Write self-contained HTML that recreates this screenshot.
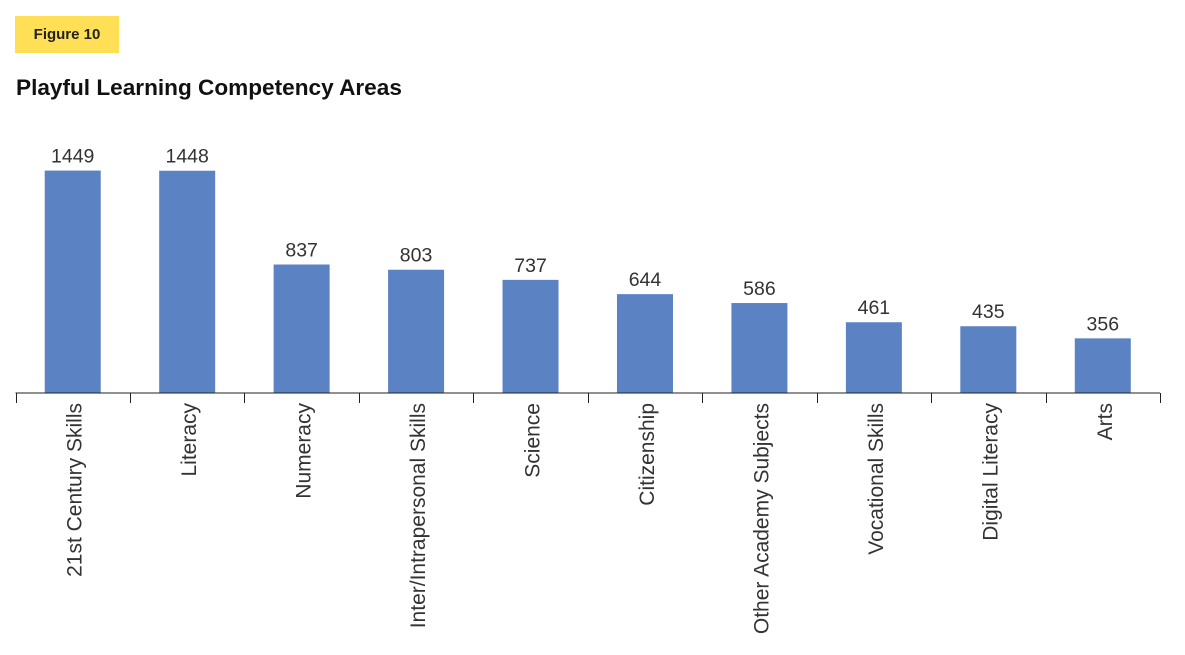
<!DOCTYPE html>
<html><head><meta charset="utf-8"><style>
body{margin:0;background:#fff;width:1185px;height:655px;overflow:hidden;font-family:"Liberation Sans",Arial,sans-serif}
#badge{position:absolute;left:15px;top:16px;width:104px;height:37px;background:#FFDF55;font-weight:bold;font-size:15px;color:#222;display:flex;align-items:center;justify-content:center}
#title{position:absolute;left:16px;top:75px;font-weight:bold;font-size:22.6px;color:#111}
svg{position:absolute;left:0;top:0}
</style></head><body>
<div id="badge">Figure 10</div>
<div id="title">Playful Learning Competency Areas</div>
<svg id="chart" width="1185" height="655"></svg>
<script>
const categories=["21st Century Skills","Literacy","Numeracy","Inter/Intrapersonal Skills","Science","Citizenship","Other Academy Subjects","Vocational Skills","Digital Literacy","Arts"];
const values=[1449,1448,837,803,737,644,586,461,435,356];
const valueLabels=["1449","1448","837","803","737","644","586","461","435","356"];
const svg=document.getElementById('chart');
const NS="http://www.w3.org/2000/svg";
const x0=15.5,x1=1160,base=393,pxPer=0.1535;
const bw=(x1-x0)/categories.length;
const xScale=i=>x0+bw*i;
const yScale=v=>base-v*pxPer;
function mk(t,a){const e=document.createElementNS(NS,t);for(const k in a)e.setAttribute(k,a[k]);svg.appendChild(e);return e;}
categories.forEach((c,i)=>{
  const cx=xScale(i)+bw/2,top=yScale(values[i]);
  const r=mk('rect',{x:cx-28,y:top,width:56,height:base-top,fill:'#5B82C2'});
  
  
  const t=mk('text',{x:cx,y:top-8,'text-anchor':'middle','font-size':19.5,fill:'#333','font-family':'Liberation Sans, sans-serif'});
  t.textContent=valueLabels[i];
  
  
  const l=mk('text',{x:0,y:0,'text-anchor':'end','font-size':21,fill:'#333','font-family':'Liberation Sans, sans-serif',transform:`translate(${cx+9},403) rotate(-90)`});
  l.textContent=c;
  
  
});
const ax=mk('line',{x1:x0,y1:base,x2:x1,y2:base,stroke:'#222','stroke-width':1});


for(let i=0;i<=categories.length;i++){
  const tx=Math.round(xScale(i))+0.5;
  const tk=mk('line',{x1:tx,y1:base,x2:tx,y2:base+10,stroke:'#222','stroke-width':1});
  
  
}
</script>
</body></html>
